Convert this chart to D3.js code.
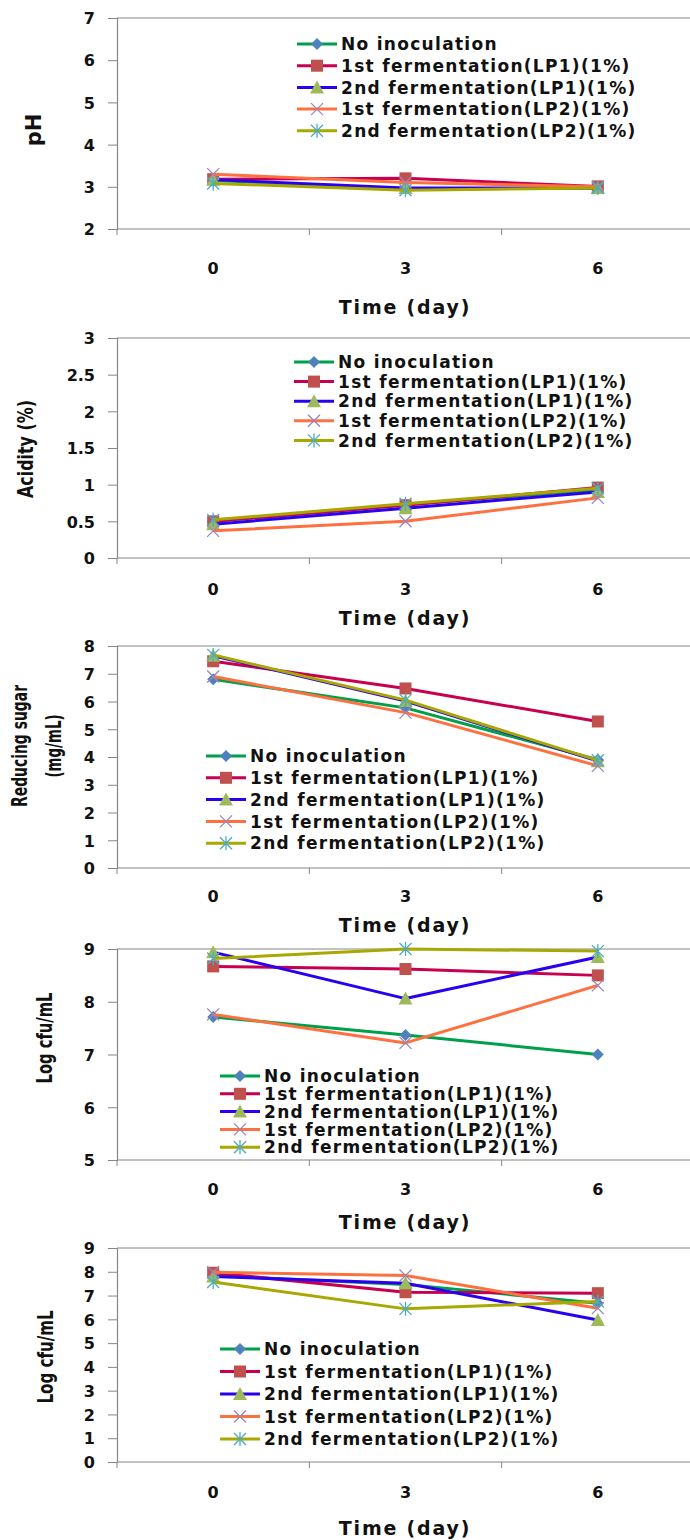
<!DOCTYPE html>
<html>
<head>
<meta charset="utf-8">
<script src="https://cdn.jsdelivr.net/npm/d3@7"></script>
<style>
  body { margin: 0; background: #fff; }
  svg { display: block; }
  .tick-label { font-family: "DejaVu Sans", sans-serif; font-weight: bold; font-size: 16px; fill: #111; }
  .x-title { font-family: "DejaVu Sans", sans-serif; font-weight: bold; font-size: 19px; letter-spacing: 1.8px; fill: #111; }
  .legend-text { font-family: "DejaVu Sans", sans-serif; font-weight: bold; font-size: 17px; letter-spacing: 1.3px; fill: #111; }
  .y-title { font-family: "Liberation Sans Narrow", "DejaVu Sans Condensed", sans-serif; font-weight: bold; font-size: 21px; fill: #111; }
</style>
</head>
<body>
<div id="chart"></div>
<script>
// Time points (day)
const days = ['0', '3', '6'];

// Series names, same order in every panel
const seriesNames = [
    'No inoculation',
    '1st fermentation(LP1)(1%)',
    '2nd fermentation(LP1)(1%)',
    '1st fermentation(LP2)(1%)',
    '2nd fermentation(LP2)(1%)'
];

// Line colour and marker per series
const lineColors = ['#00a04a', '#c8004f', '#2a00f0', '#ff7040', '#a8a800'];
const markerColors = ['#4f81bd', '#c0504d', '#9bbb59', '#9a86b8', '#4bacc6'];
const markerTypes = ['diamond', 'square', 'triangle', 'x', 'asterisk'];

// Values, one row per series (day 0, 3, 6)
const phValues = [
    [3.15, 2.95, 2.97],
    [3.18, 3.20, 3.01],
    [3.17, 2.97, 2.97],
    [3.30, 3.10, 3.00],
    [3.08, 2.92, 2.97]
];
const acidityValues = [
    [0.50, 0.73, 0.93],
    [0.50, 0.72, 0.96],
    [0.46, 0.68, 0.90],
    [0.37, 0.50, 0.82],
    [0.52, 0.74, 0.95]
];
const sugarValues = [
    [6.80, 5.77, 3.90],
    [7.45, 6.47, 5.28],
    [7.65, 6.02, 3.85],
    [6.90, 5.60, 3.68],
    [7.68, 6.05, 3.88]
];
const cfuValues1 = [
    [7.71, 7.37, 7.00],
    [8.67, 8.62, 8.50],
    [8.94, 8.06, 8.85],
    [7.76, 7.22, 8.31],
    [8.82, 9.00, 8.96]
];
const cfuValues2 = [
    [7.84, 7.47, 6.68],
    [7.96, 7.14, 7.10],
    [7.80, 7.52, 5.97],
    [7.98, 7.84, 6.47],
    [7.57, 6.44, 6.75]
];

// Y axis ticks per panel
const phTicks = [2, 3, 4, 5, 6, 7];
const acidityTicks = [0, 0.5, 1, 1.5, 2, 2.5, 3];
const sugarTicks = [0, 1, 2, 3, 4, 5, 6, 7, 8];
const cfuTicks1 = [5, 6, 7, 8, 9];
const cfuTicks2 = [0, 1, 2, 3, 4, 5, 6, 7, 8, 9];

const width = 690, height = 1540;
const axisColor = '#868686';

const svg = d3.select('#chart').append('svg')
    .attr('width', width)
    .attr('height', height);

// Panel layouts
const panels = [
    { values: phValues, ticks: phTicks, yTitle: ['pH'], titleBold: true,
      top: 18, bottom: 229, xLabelY: 268, xTitleY: 307,
      yTitleX: [33], yTitleY: 130, yTitleLen: [null],
      legX: 297, legY: 44, legStep: 21.7, fmt: d3.format('d') },
    { values: acidityValues, ticks: acidityTicks, yTitle: ['Acidity (%)'],
      top: 338, bottom: 558, xLabelY: 589, xTitleY: 618,
      yTitleX: [25], yTitleY: 449, yTitleLen: [98],
      legX: 294, legY: 362, legStep: 19.6, fmt: d => String(d) },
    { values: sugarValues, ticks: sugarTicks, yTitle: ['Reducing sugar', '(mg/mL)'],
      top: 646, bottom: 868, xLabelY: 896, xTitleY: 925,
      yTitleX: [19, 53], yTitleY: 746, yTitleLen: [122, 63],
      legX: 206, legY: 756, legStep: 21.8, fmt: d3.format('d') },
    { values: cfuValues1, ticks: cfuTicks1, yTitle: ['Log cfu/mL'],
      top: 949, bottom: 1160, xLabelY: 1189, xTitleY: 1222,
      yTitleX: [44], yTitleY: 1038, yTitleLen: [91],
      legX: 220, legY: 1076, legStep: 17.8, fmt: d3.format('d') },
    { values: cfuValues2, ticks: cfuTicks2, yTitle: ['Log cfu/mL'],
      top: 1248, bottom: 1462, xLabelY: 1492, xTitleY: 1528,
      yTitleX: [45], yTitleY: 1357, yTitleLen: [93],
      legX: 220, legY: 1349, legStep: 22.5, fmt: d3.format('d') }
];

const plotLeft = 117, plotRight = 694;

function drawMarker(sel, type, color) {
    if (type === 'diamond') {
        sel.append('path').attr('d', 'M0,-6L6,0L0,6L-6,0Z').attr('fill', color);
    } else if (type === 'square') {
        sel.append('rect').attr('x', -6).attr('y', -6).attr('width', 12).attr('height', 12).attr('fill', color);
    } else if (type === 'triangle') {
        sel.append('path').attr('d', 'M0,-7L7,6L-7,6Z').attr('fill', color);
    } else if (type === 'x') {
        sel.append('path').attr('d', 'M-6,-6L6,6M-6,6L6,-6')
            .attr('stroke', color).attr('stroke-width', 1.3).attr('fill', 'none');
    } else {
        sel.append('path').attr('d', 'M-6,-6L6,6M-6,6L6,-6M0,-7L0,7')
            .attr('stroke', color).attr('stroke-width', 1.3).attr('fill', 'none');
    }
}

panels.forEach(p => {
    const g = svg.append('g');
    const x = d3.scaleBand().domain(days).range([plotLeft, plotRight]);
    const y = d3.scaleLinear().domain(d3.extent(p.ticks)).range([p.bottom, p.top]);

    // plot frame (top and right)
    g.append('path')
        .attr('d', `M${plotLeft},${p.top}H${plotRight}V${p.bottom}`)
        .attr('fill', 'none').attr('stroke', axisColor).attr('stroke-width', 1);

    // y axis
    const yAxis = g.append('g')
        .attr('transform', `translate(${plotLeft},0)`)
        .call(d3.axisLeft(y).tickValues(p.ticks).tickSize(9).tickPadding(13).tickFormat(p.fmt));
    yAxis.attr('font-size', null).attr('font-family', null);
    yAxis.select('.domain').attr('stroke', axisColor).attr('stroke-width', 1.2);
    yAxis.selectAll('.tick line').attr('stroke', axisColor);
    yAxis.selectAll('.tick text').attr('class', 'tick-label').attr('dy', '0.36em');

    // x axis line with ticks at band edges
    g.append('line')
        .attr('x1', plotLeft).attr('x2', plotRight)
        .attr('y1', p.bottom).attr('y2', p.bottom)
        .attr('stroke', axisColor).attr('stroke-width', 1.2);
    const edges = days.map(d => x(d)).concat([plotRight]);
    g.selectAll('.xtick').data(edges).enter().append('line')
        .attr('x1', d => d).attr('x2', d => d)
        .attr('y1', p.bottom).attr('y2', p.bottom + 6)
        .attr('stroke', axisColor);
    g.selectAll('.xlabel').data(days).enter().append('text')
        .attr('class', 'tick-label')
        .attr('x', d => x(d) + x.bandwidth() / 2)
        .attr('y', p.xLabelY)
        .attr('dy', '0.36em')
        .attr('text-anchor', 'middle')
        .text(d => d);

    g.append('text')
        .attr('class', 'x-title')
        .attr('x', 405).attr('y', p.xTitleY).attr('dy', '0.36em')
        .attr('text-anchor', 'middle')
        .text('Time (day)');

    // y title
    p.yTitle.forEach((t, i) => {
        const tt = g.append('text')
            .attr('class', 'y-title')
            .attr('transform', `translate(${p.yTitleX[i]},${p.yTitleY}) rotate(-90)`)
            .attr('dy', '0.36em')
            .attr('text-anchor', 'middle')
            .text(t);
        if (p.titleBold) {
            tt.style('font-family', '"DejaVu Sans", sans-serif').style('font-size', '21px');
        }
        if (p.yTitleLen[i]) tt.attr('textLength', p.yTitleLen[i]).attr('lengthAdjust', 'spacingAndGlyphs');
    });

    // series
    const line = d3.line().x((d, i) => x(days[i]) + x.bandwidth() / 2).y(d => y(d));
    p.values.forEach((vals, s) => {
        g.append('path')
            .attr('d', line(vals))
            .attr('fill', 'none')
            .attr('stroke', lineColors[s])
            .attr('stroke-width', 3)
            .attr('stroke-linejoin', 'round');
        vals.forEach((v, i) => {
            const m = g.append('g')
                .attr('transform', `translate(${x(days[i]) + x.bandwidth() / 2},${y(v)})`);
            drawMarker(m, markerTypes[s], markerColors[s]);
        });
    });

    // legend
    const leg = g.append('g');
    seriesNames.forEach((name, s) => {
        const ly = p.legY + s * p.legStep;
        leg.append('line')
            .attr('x1', p.legX).attr('x2', p.legX + 40)
            .attr('y1', ly).attr('y2', ly)
            .attr('stroke', lineColors[s]).attr('stroke-width', 3);
        const m = leg.append('g').attr('transform', `translate(${p.legX + 20},${ly})`);
        drawMarker(m, markerTypes[s], markerColors[s]);
        leg.append('text')
            .attr('class', 'legend-text')
            .attr('x', p.legX + 44).attr('y', ly).attr('dy', '0.36em')
            .text(name);
    });
});
</script>
</body>
</html>
